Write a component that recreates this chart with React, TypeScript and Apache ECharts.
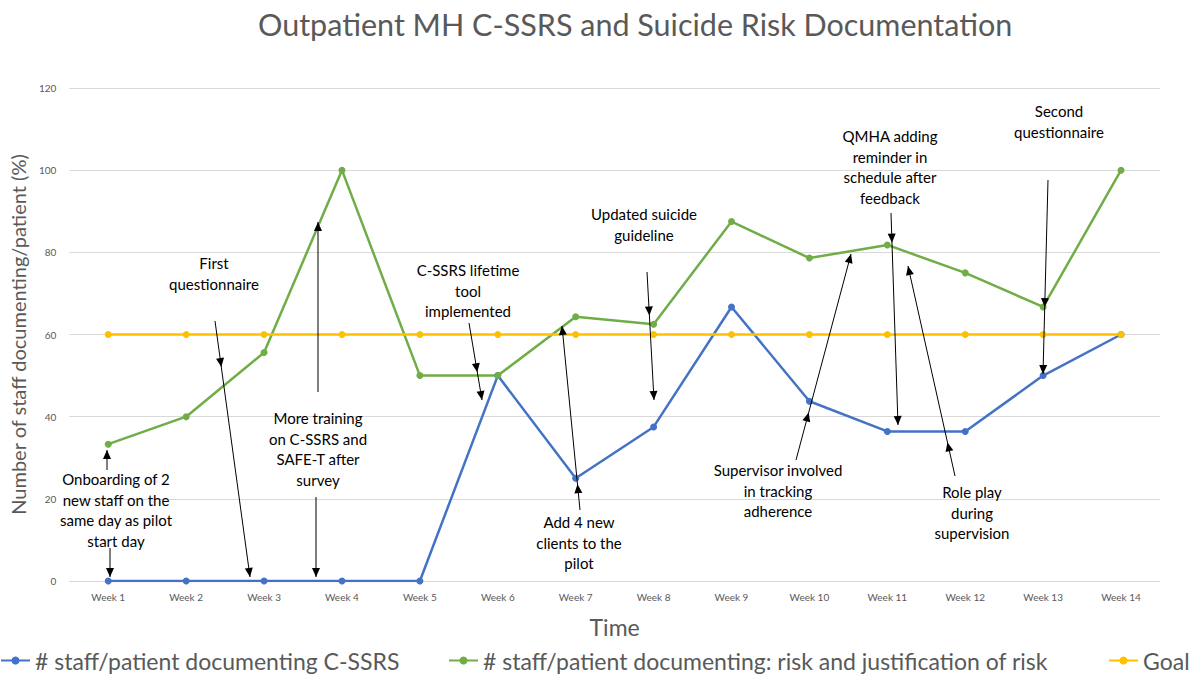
import React, { useEffect, useRef } from "react";
import * as echarts from "echarts";

const weeks = ["Week 1", "Week 2", "Week 3", "Week 4", "Week 5", "Week 6", "Week 7", "Week 8", "Week 9", "Week 10", "Week 11", "Week 12", "Week 13", "Week 14"];
const cssrs = [0, 0, 0, 0, 0, 50, 25, 37.5, 66.7, 43.75, 36.4, 36.4, 50, 60];
const riskJustification = [33.3, 40, 55.6, 100, 50, 50, 64.3, 62.5, 87.5, 78.6, 81.8, 75, 66.7, 100];
const goal = [60, 60, 60, 60, 60, 60, 60, 60, 60, 60, 60, 60, 60, 60];
const yTicks = { min: 0, max: 120, interval: 20 };

const seriesNames = [
  "# staff/patient documenting C-SSRS",
  "# staff/patient documenting: risk and justification of risk",
  "Goal",
];

// annotation texts (lines) with center positions
const notes = [
  { lines: ["Onboarding of 2", "new staff on the", "same day as pilot", "start day"], x: 116, y: 479 },
  { lines: ["First", "questionnaire"], x: 214, y: 263 },
  { lines: ["More training", "on C-SSRS and", "SAFE-T after", "survey"], x: 318, y: 418 },
  { lines: ["C-SSRS lifetime", "tool", "implemented"], x: 468, y: 270 },
  { lines: ["Add 4 new", "clients to the", "pilot"], x: 579, y: 522 },
  { lines: ["Updated suicide", "guideline"], x: 644, y: 214 },
  { lines: ["Supervisor involved", "in tracking", "adherence"], x: 778, y: 470 },
  { lines: ["QMHA adding", "reminder in", "schedule after", "feedback"], x: 890, y: 136 },
  { lines: ["Role play", "during", "supervision"], x: 972, y: 492 },
  { lines: ["Second", "questionnaire"], x: 1059, y: 111 },
];

// arrows: from (x1,y1) to (x2,y2), heads at fractions along the line
const arrows: [number, number, number, number, number[]][] = [
  [107, 470, 107, 450, [1]],
  [110, 548, 110, 577, [1]],
  [215, 321, 250, 577, [0.18, 1]],
  [318, 392, 318, 222, [1]],
  [316, 497, 316, 577, [1]],
  [469, 323, 482, 400, [0.64, 1]],
  [580, 510, 562, 326, [0.14, 1]],
  [647, 272, 654, 400, [0.34, 1]],
  [796, 460, 851, 254, [0.23, 1]],
  [891, 213, 898, 425, [0.14, 1]],
  [955, 476, 908, 266, [0.16, 1]],
  [1048, 180, 1043, 374, [0.655, 1]],
];

const legendLefts = [0, 448, 1108];

function buildArrow(a: [number, number, number, number, number[]]) {
  const [x1, y1, x2, y2, fr] = a;
  const dx = x2 - x1, dy = y2 - y1;
  const len = Math.sqrt(dx * dx + dy * dy);
  const ux = dx / len, uy = dy / len;
  const px = -uy, py = ux;
  const els: any[] = [
    { type: "line", shape: { x1, y1, x2, y2 }, style: { stroke: "#000", lineWidth: 1 }, silent: true },
  ];
  fr.forEach((f) => {
    const tx = x1 + dx * f, ty = y1 + dy * f;
    const bx = tx - ux * 9, by = ty - uy * 9;
    els.push({
      type: "polygon",
      shape: { points: [[tx, ty], [bx + px * 4, by + py * 4], [bx - px * 4, by - py * 4]] },
      style: { fill: "#000" },
      silent: true,
    });
  });
  return els;
}

export default function App() {
  const ref = useRef<HTMLDivElement>(null);
  useEffect(() => {
    document.body.style.margin = "0";
    const chart = echarts.init(ref.current!, null, { renderer: "svg" });
    const font = "Lato, 'Open Sans', sans-serif";
    const graphics: any[] = [];
    notes.forEach((n) => {
      n.lines.forEach((l, i) => {
        graphics.push({
          type: "text",
          x: n.x,
          y: n.y + i * 20.5,
          style: { text: l, fill: "#000", font: `15px ${font}`, textAlign: "center", textVerticalAlign: "middle" },
          silent: true,
          z: 100,
        });
      });
    });
    arrows.forEach((a) => buildArrow(a).forEach((e) => graphics.push({ ...e, z: 100 })));

    const mk = (name: string, data: number[], color: string) => ({
      name,
      type: "line",
      data,
      symbol: "circle",
      symbolSize: 7,
      itemStyle: { color },
      lineStyle: { color, width: 2.5 },
    });

    chart.setOption({
      animation: false,
      textStyle: { fontFamily: font },
      title: {
        text: "Outpatient MH C-SSRS and Suicide Risk Documentation",
        left: 253,
        top: 3,
        textStyle: { fontSize: 30.5, fontWeight: "normal", color: "#595959", fontFamily: font },
      },
      legend: seriesNames.map((n, i) => ({
        left: legendLefts[i],
        top: 649,
        padding: 0,
        itemWidth: 29,
        itemHeight: 10,
        textStyle: { fontSize: 23, color: "#595959", fontFamily: font },
        data: [n],
      })),
      grid: { left: 68, right: 42, top: 88, bottom: 97 },
      xAxis: {
        type: "category",
        data: weeks,
        boundaryGap: true,
        name: "Time",
        nameLocation: "middle",
        nameGap: 34,
        nameTextStyle: { fontSize: 23, color: "#595959" },
        axisLine: { lineStyle: { color: "#d9d9d9", width: 1 } },
        axisTick: { show: false },
        axisLabel: { fontSize: 10, color: "#595959", margin: 11 },
      },
      yAxis: {
        type: "value",
        min: yTicks.min,
        max: yTicks.max,
        interval: yTicks.interval,
        name: "Number of staff documenting/patient (%)",
        nameLocation: "middle",
        nameGap: 32,
        nameTextStyle: { fontSize: 20, color: "#595959" },
        axisLine: { show: false },
        axisTick: { show: false },
        axisLabel: { fontSize: 10, color: "#595959", margin: 13 },
        splitLine: { lineStyle: { color: "#d9d9d9", width: 1 } },
      },
      series: [
        mk(seriesNames[0], cssrs, "#4472C4"),
        mk(seriesNames[1], riskJustification, "#70AD47"),
        mk(seriesNames[2], goal, "#FFC000"),
      ],
      graphic: graphics,
    });
    return () => chart.dispose();
  }, []);
  return <div ref={ref} style={{ width: 1202, height: 678 }} />;
}
